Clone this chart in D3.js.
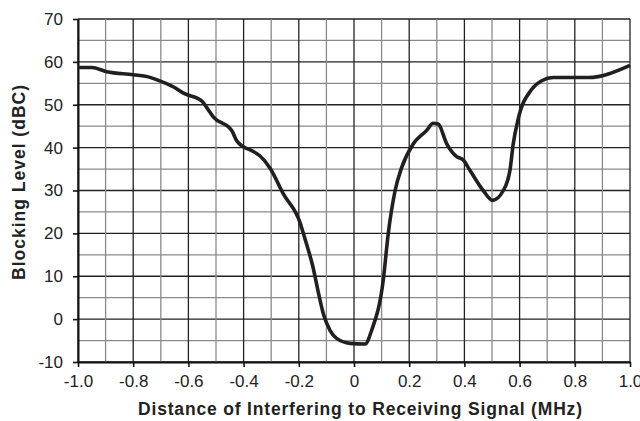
<!DOCTYPE html>
<html><head><meta charset="utf-8">
<script src="https://cdn.jsdelivr.net/npm/d3@7"></script>
<style>body{margin:0;background:#fff}svg{display:block}</style>
</head><body>
<svg id="c" width="640" height="421"></svg>
<script>
const xTicks = [-1.0,-0.8,-0.6,-0.4,-0.2,0,0.2,0.4,0.6,0.8,1.0];
const xTickLabels = ["-1.0","-0.8","-0.6","-0.4","-0.2","0","0.2","0.4","0.6","0.8","1.0"];
const yTicks = [-10,0,10,20,30,40,50,60,70];
const yTickLabels = ["-10","0","10","20","30","40","50","60","70"];
const xVals = [-1.0,-0.95,-0.896,-0.80,-0.745,-0.697,-0.655,-0.618,-0.552,-0.534,-0.510,-0.443,-0.425,-0.401,-0.371,-0.341,-0.304,-0.256,-0.196,-0.178,-0.15,-0.125,-0.11,-0.087,-0.063,-0.014,0.040,0.064,0.106,0.124,0.149,0.173,0.215,0.263,0.287,0.305,0.336,0.372,0.396,0.420,0.468,0.502,0.541,0.565,0.577,0.595,0.644,0.680,0.722,0.849,1.0];
const yVals = [58.7,58.7,57.7,57.0,56.5,55.4,54.2,52.7,50.9,49.4,47.2,44.0,41.6,40.2,39.3,38.1,35.2,29.2,22.6,18.8,12.5,5,1,-2.6,-4.5,-5.65,-5.8,-2.6,9.1,19.9,30,35.4,40.9,44.0,45.7,45.5,40.9,37.9,37.1,34.7,30,27.7,30,34.7,40.9,46.7,53.6,55.6,56.35,56.35,59.2];

const svg = d3.select("#c");
const L=78,R=630,T=19,B=362;
const FONT = "Liberation Sans, Arial, Helvetica, sans-serif";
const x = d3.scaleLinear().domain([-1,1]).range([L,R]);
const y = d3.scaleLinear().domain([-10,70]).range([B,T]);

const grid = svg.append("g");
d3.range(-10,71,5).forEach(v=>{
  const major = v%10===0;
  grid.append("line").attr("x1",L).attr("x2",R).attr("y1",y(v)).attr("y2",y(v))
    .attr("stroke",major?"#222":"#8a8a8a").attr("stroke-width",1.3);
});
d3.range(-10,11,1).forEach(i=>{
  const v=i/10, major = i%2===0;
  grid.append("line").attr("y1",T).attr("y2",B).attr("x1",x(v)).attr("x2",x(v))
    .attr("stroke",major?"#222":"#8a8a8a").attr("stroke-width",1.3);
});

const xa = svg.append("g").attr("transform",`translate(0,${B})`)
  .call(d3.axisBottom(x).tickValues(xTicks).tickFormat((d,i)=>xTickLabels[i]).tickSize(5).tickSizeOuter(0).tickPadding(8));
const ya = svg.append("g").attr("transform",`translate(${L},0)`)
  .call(d3.axisLeft(y).tickValues(yTicks).tickFormat((d,i)=>yTickLabels[i]).tickSize(5).tickSizeOuter(0).tickPadding(10));
[xa,ya].forEach(a=>{
  a.selectAll("path").attr("stroke","#111").attr("stroke-width",2);
  a.selectAll("line").attr("stroke","#111").attr("stroke-width",1.6);
  a.selectAll("text").attr("font-family",FONT).attr("font-size",17).attr("fill","#222");
});

svg.append("path").datum(xVals.map((d,i)=>[d,yVals[i]]))
  .attr("fill","none").attr("stroke","#231f20").attr("stroke-width",3.6).attr("stroke-linejoin","round")
  .attr("d",d3.line().x(d=>x(d[0])).y(d=>y(d[1])).curve(d3.curveMonotoneX));

const xt = svg.append("text").attr("x",360).attr("y",415).attr("text-anchor","middle")
  .attr("font-family",FONT).attr("font-weight","bold").attr("font-size",17.5).attr("fill","#222")
  .attr("textLength",444).attr("lengthAdjust","spacing")
  .text("Distance of Interfering to Receiving Signal (MHz)");
const yt = svg.append("text").attr("transform","translate(25,182.5) rotate(-90)").attr("text-anchor","middle")
  .attr("font-family",FONT).attr("font-weight","bold").attr("font-size",17.5).attr("fill","#222")
  .attr("textLength",195).attr("lengthAdjust","spacing")
  .text("Blocking Level (dBC)");
</script>
</body></html>
